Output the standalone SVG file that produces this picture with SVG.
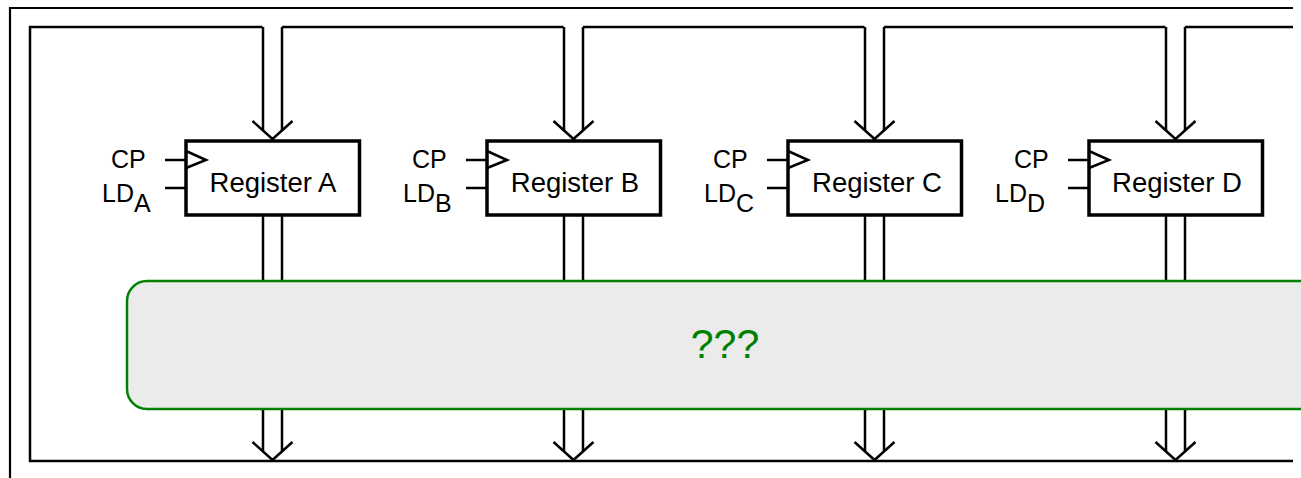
<svg xmlns="http://www.w3.org/2000/svg" width="1301" height="478" viewBox="0 0 1301 478">
  <style>
    .wire { fill: none; stroke: #000; stroke-width: 2.5; stroke-linecap: butt; stroke-linejoin: miter; }
    .frame { fill: none; stroke: #000; stroke-width: 2.2; }
    .reg { fill: #fff; stroke: #000; stroke-width: 3.5; }
    .clk { fill: none; stroke: #000; stroke-width: 2.5; stroke-linejoin: miter; }
    .regtxt { font-family: "Liberation Sans", Arial, sans-serif; font-size: 27.5px; fill: #000; text-anchor: middle; }
    .sig { font-family: "Liberation Sans", Arial, sans-serif; font-size: 25px; fill: #000; }
    .logic { fill: #ebebeb; stroke: #008000; stroke-width: 2.5; }
    .logictxt { font-family: "Liberation Sans", Arial, sans-serif; font-size: 41px; fill: #008000; text-anchor: middle; }
  </style>
  <defs>
    <!-- one register with its clock and load inputs, origin at the box's left edge -->
    <g id="regbox">
      <rect class="reg" x="0" y="141" width="173.5" height="74"/>
      <path class="clk" d="M0 151 L20 160 L0 168"/>
      <line class="wire" x1="-21" y1="160" x2="0" y2="160"/>
      <line class="wire" x1="-21" y1="188" x2="0" y2="188"/>
      <text class="sig" x="-75" y="168">CP</text>
    </g>
    <!-- double-line bus entering a register from above -->
    <g id="busin">
      <line class="wire" x1="-9.5" y1="27" x2="-9.5" y2="131"/>
      <line class="wire" x1="9.5" y1="27" x2="9.5" y2="131"/>
      <path class="wire" d="M-20 121 L0 139 L20 121"/>
    </g>
    <!-- double-line bus leaving a register, through the logic block, down to the return line -->
    <g id="busout">
      <line class="wire" x1="-9.5" y1="215" x2="-9.5" y2="282"/>
      <line class="wire" x1="9.5" y1="215" x2="9.5" y2="282"/>
      <line class="wire" x1="-9.5" y1="408" x2="-9.5" y2="451"/>
      <line class="wire" x1="9.5" y1="408" x2="9.5" y2="451"/>
      <path class="wire" d="M-20 442 L0 460 L20 442"/>
    </g>
  </defs>

  <rect width="1301" height="478" fill="#fff"/>

  <g id="connectors">
    <!-- outer frame -->
    <path class="frame" d="M10 478 L10 8 L1293 8"/>
    <!-- return line: bottom, left side and top feed -->
    <path class="wire" d="M1293 461 L30 461 L30 27 L262.5 27"/>
    <path class="wire" d="M282 27 L563.5 27"/>
    <path class="wire" d="M583 27 L864.5 27"/>
    <path class="wire" d="M884 27 L1165.5 27"/>
    <path class="wire" d="M1185 27 L1293 27"/>
    <use href="#busin" x="272.5"/>
    <use href="#busin" x="573.5"/>
    <use href="#busin" x="874.5"/>
    <use href="#busin" x="1175.5"/>
    <use href="#busout" x="272.5"/>
    <use href="#busout" x="573.5"/>
    <use href="#busout" x="874.5"/>
    <use href="#busout" x="1175.5"/>
  </g>

  <g id="register-a">
    <use href="#regbox" x="186"/>
    <text class="regtxt" x="273" y="192">Register A</text>
    <text class="sig" x="102" y="202">LD<tspan dy="10">A</tspan></text>
  </g>
  <g id="register-b">
    <use href="#regbox" x="487"/>
    <text class="regtxt" x="575" y="192">Register B</text>
    <text class="sig" x="403" y="202">LD<tspan dy="10">B</tspan></text>
  </g>
  <g id="register-c">
    <use href="#regbox" x="788"/>
    <text class="regtxt" x="877" y="192">Register C</text>
    <text class="sig" x="704" y="202">LD<tspan dy="10">C</tspan></text>
  </g>
  <g id="register-d">
    <use href="#regbox" x="1089"/>
    <text class="regtxt" x="1177" y="192">Register D</text>
    <text class="sig" x="995" y="202">LD<tspan dy="10">D</tspan></text>
  </g>

  <g id="logic-block">
    <rect class="logic" x="127" y="281" width="1220" height="128" rx="20" ry="20"/>
    <text class="logictxt" x="725" y="358">???</text>
  </g>
</svg>
